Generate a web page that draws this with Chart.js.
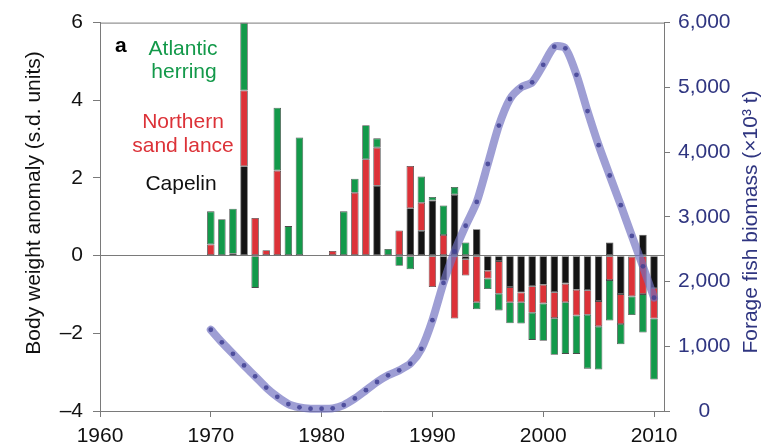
<!DOCTYPE html>
<html>
<head>
<meta charset="utf-8">
<script src="https://cdn.jsdelivr.net/npm/chart.js@4.4.1/dist/chart.umd.min.js"></script>
<style>
  html, body { margin: 0; padding: 0; background: #ffffff; }
  canvas { display: block; }
</style>
</head>
<body>
<canvas id="chart" width="773" height="448"></canvas>
<script>
// Survey years
const years = [1970, 1971, 1972, 1973, 1974, 1975, 1976, 1977, 1978, 1979,
               1980, 1981, 1982, 1983, 1984, 1985, 1986, 1987, 1988, 1989,
               1990, 1991, 1992, 1993, 1994, 1995, 1996, 1997, 1998, 1999,
               2000, 2001, 2002, 2003, 2004, 2005, 2006, 2007, 2008, 2009, 2010];

// Body weight anomaly (s.d. units) per species; 0 = no value that year
const capelin = [0, 0, 0, 2.30, 0, 0, 0, 0, 0, 0,
                 0, 0, 0, 0, 0, 1.80, 0, 0, 1.22, 0.64,
                 1.42, -0.64, 1.57, -0.09, 0.68, -0.39, -0.14, -0.81, -0.95, -0.79,
                 -0.75, -0.94, -0.72, -0.88, -0.89, -1.17, 0.34, -0.99, -0.03, 0.54, -0.83];

const sandLance = [0.29, 0, 0.05, 1.95, 0.97, 0.14, 2.19, 0, 0, 0,
                   0, 0.12, 0, 1.62, 2.48, 0.98, 0, 0.65, 1.09, 0.72,
                   -0.81, 0.53, -1.62, -0.42, -1.20, -0.20, -0.84, -0.39, -0.25, -0.68,
                   -0.48, -0.67, -0.48, -0.66, -0.63, -0.65, -0.63, -0.77, -1.02, -0.99, -0.79];

const herring = [0.85, 0.94, 1.16, 1.75, -0.83, 0, 1.62, 0.76, 3.04, 0,
                 0, 0, 1.14, 0.36, 0.88, 0.24, 0.17, -0.26, -0.35, 0.68,
                 0.09, 0.76, 0.20, 0.34, -0.18, -0.27, -0.43, -0.54, -0.55, -0.70,
                 -0.96, -0.94, -1.33, -0.99, -1.39, -1.11, -1.04, -0.52, -0.48, -0.99, -1.57];

// Forage fish biomass (x10^3 t)
const biomass = [1255, 1061, 883, 704, 536, 362, 219, 107, 57, 36,
                 36, 41, 92, 194, 321, 448, 551, 628, 730, 960,
                 1403, 1979, 2464, 2862, 3230, 3816, 4410, 4820, 5000, 5077,
                 5347, 5628, 5602, 5194, 4633, 4107, 3638, 3179, 2705, 2235, 1750];

// Axis tick values
const xTicks = [1960, 1970, 1980, 1990, 2000, 2010];
const anomalyTicks = [-4, -2, 0, 2, 4, 6];
const biomassTicks = [0, 1000, 2000, 3000, 4000, 5000, 6000];

const FONT = '"Liberation Sans", Arial, Helvetica, sans-serif';
const GREEN = '#13994a';
const RED = '#dc3238';
const BLACK = '#141414';
const NAVY = '#2f3580';
const AXIS = '#7a7a7a';

Chart.defaults.font.family = FONT;
Chart.defaults.font.size = 21;
Chart.defaults.color = '#111';

const toBars = vals => years.map((yr, i) => ({ x: yr, y: vals[i] === 0 ? null : vals[i] }));
const toLine = vals => years.map((yr, i) => ({ x: yr, y: vals[i] }));

const barStyle = {
  type: 'bar',
  yAxisID: 'y',
  order: 1,
  borderColor: 'rgba(45,45,45,0.85)',
  borderWidth: 0.8,
  borderSkipped: false,
  categoryPercentage: 0.75,
  barPercentage: 0.9
};

// Species names, panel letter, axis titles and the top frame line
const decorations = {
  id: 'decorations',
  afterDraw(chart) {
    const { ctx, chartArea: a } = chart;
    ctx.save();
    ctx.strokeStyle = AXIS;
    ctx.lineWidth = 1;
    ctx.beginPath();
    ctx.moveTo(a.left, a.top + 0.5);
    ctx.lineTo(a.right, a.top + 0.5);
    ctx.stroke();

    ctx.textBaseline = 'alphabetic';
    ctx.font = 'bold 21px ' + FONT;
    ctx.fillStyle = '#000';
    ctx.textAlign = 'left';
    ctx.fillText('a', 115, 52);

    ctx.font = '21px ' + FONT;
    ctx.textAlign = 'center';
    ctx.fillStyle = GREEN;
    ctx.fillText('Atlantic', 183, 55);
    ctx.fillText('herring', 184, 78);
    ctx.fillStyle = RED;
    ctx.fillText('Northern', 183, 128);
    ctx.fillText('sand lance', 183, 152);
    ctx.fillStyle = '#111';
    ctx.fillText('Capelin', 181, 190);

    ctx.textBaseline = 'middle';
    ctx.save();
    ctx.translate(34, 203);
    ctx.rotate(-Math.PI / 2);
    ctx.fillStyle = '#111';
    ctx.font = '21px ' + FONT;
    ctx.fillText('Body weight anomaly (s.d. units)', 0, 0);
    ctx.restore();

    ctx.save();
    ctx.translate(751, 222);
    ctx.rotate(-Math.PI / 2);
    ctx.fillStyle = NAVY;
    ctx.font = '21px ' + FONT;
    ctx.fillText('Forage fish biomass (\u00d710\u00b3 t)', 0, 0);
    ctx.restore();
    ctx.restore();
  }
};

new Chart(document.getElementById('chart'), {
  type: 'bar',
  data: {
    datasets: [
      {
        type: 'line',
        label: 'Forage fish biomass',
        yAxisID: 'y1',
        order: 0,
        data: toLine(biomass),
        borderColor: 'rgba(112,112,192,0.68)',
        borderWidth: 8,
        borderCapStyle: 'round',
        borderJoinStyle: 'round',
        tension: 0.25,
        pointRadius: 2.4,
        pointBorderWidth: 0,
        pointBackgroundColor: 'rgba(66,66,148,0.85)',
        clip: 10
      },
      Object.assign({ label: 'Capelin', data: toBars(capelin), backgroundColor: BLACK }, barStyle),
      Object.assign({ label: 'Northern sand lance', data: toBars(sandLance), backgroundColor: RED }, barStyle),
      Object.assign({ label: 'Atlantic herring', data: toBars(herring), backgroundColor: GREEN }, barStyle)
    ]
  },
  options: {
    responsive: false,
    animation: false,
    layout: { padding: { top: 19, left: 0, right: 0, bottom: 0 } },
    plugins: {
      legend: { display: false },
      tooltip: { enabled: false }
    },
    scales: {
      x: {
        type: 'linear',
        position: 'bottom',
        stacked: true,
        offset: false,
        min: 1960,
        max: 2010.9,
        afterBuildTicks: s => { s.ticks = xTicks.map(v => ({ value: v })); },
        afterFit: s => { s.height = 37; },
        ticks: {
          autoSkip: false,
          maxRotation: 0,
          padding: 7,
          color: '#111',
          font: { size: 21 },
          callback: v => String(v)
        },
        grid: { offset: false, drawOnChartArea: false, tickLength: 6, color: AXIS, tickColor: AXIS },
        border: { display: true, color: AXIS, width: 1 }
      },
      y: {
        position: 'left',
        stacked: true,
        min: -4,
        max: 6,
        afterBuildTicks: s => { s.ticks = anomalyTicks.map(v => ({ value: v })); },
        afterFit: s => { s.width = 100; },
        ticks: {
          padding: 10,
          color: '#111',
          font: { size: 21 },
          callback: v => (v < 0 ? '\u2013' + Math.abs(v) : String(v))
        },
        grid: {
          drawOnChartArea: true,
          tickLength: 7,
          color: c => (c.tick && c.tick.value === 0 ? AXIS : 'rgba(0,0,0,0)'),
          tickColor: AXIS
        },
        border: { display: true, color: AXIS, width: 1 }
      },
      y1: {
        position: 'right',
        min: 0,
        max: 6000,
        afterBuildTicks: s => { s.ticks = biomassTicks.map(v => ({ value: v })); },
        afterFit: s => { s.width = 109; },
        ticks: {
          padding: 8,
          crossAlign: 'center',
          color: NAVY,
          font: { size: 21 },
          callback: v => v.toLocaleString('en-US')
        },
        grid: { drawOnChartArea: false, tickLength: 6, color: AXIS, tickColor: AXIS },
        border: { display: true, color: AXIS, width: 1 }
      }
    }
  },
  plugins: [decorations]
});
</script>
</body>
</html>
